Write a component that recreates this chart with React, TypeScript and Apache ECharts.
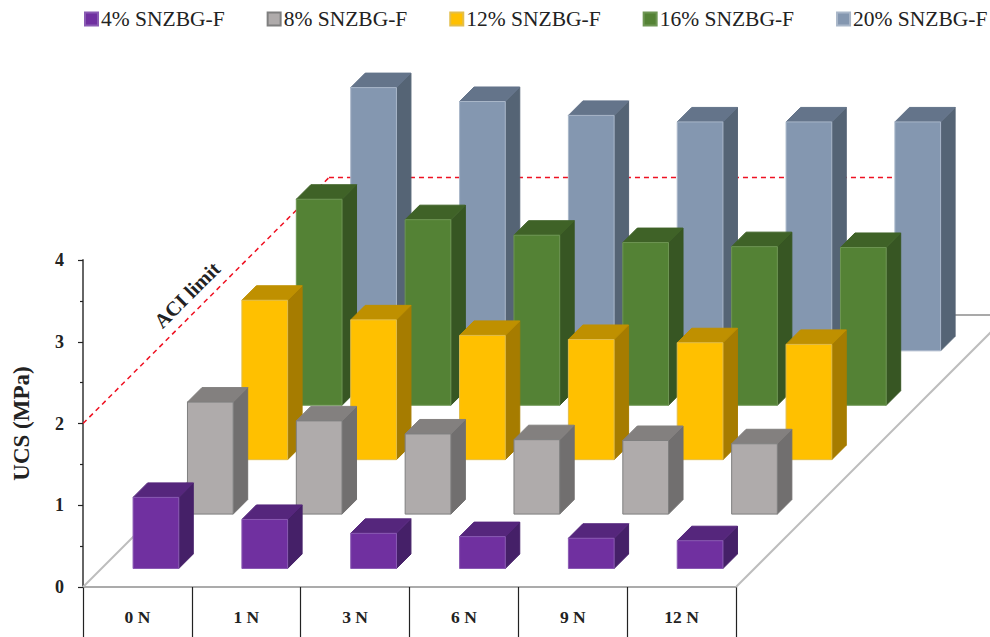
import React, { useEffect, useRef } from "react";
import * as echarts from "echarts";

const categories = ["0 N", "1 N", "3 N", "6 N", "9 N", "12 N"];
const seriesNames = ["4% SNZBG-F", "8% SNZBG-F", "12% SNZBG-F", "16% SNZBG-F", "20% SNZBG-F"];
const pct4 = [0.87, 0.6, 0.43, 0.39, 0.37, 0.34];
const pct8 = [1.37, 1.14, 0.98, 0.91, 0.9, 0.86];
const pct12 = [1.95, 1.71, 1.52, 1.47, 1.43, 1.41];
const pct16 = [2.52, 2.27, 2.08, 1.99, 1.94, 1.93];
const pct20 = [3.22, 3.05, 2.88, 2.8, 2.8, 2.8];
const allValues = [pct4, pct8, pct12, pct16, pct20];
const aciLimit = 2;

const palette = [
  { front: "#7030A0", top: "#55267C", side: "#452068", line: "#8A5BB3" },
  { front: "#AFABAB", top: "#83807F", side: "#716F6F", line: "#7F7F7F" },
  { front: "#FFC000", top: "#BF9000", side: "#A67C00", line: "#E3BE4A" },
  { front: "#548235", top: "#3F6227", side: "#375623", line: "#6E9654" },
  { front: "#8497B0", top: "#64748A", side: "#556475", line: "#A9B7C9" },
];

const FONT = "'Liberation Serif', 'Times New Roman', serif";
const TEXT = "#222222";
const BAR_RATIO = 0.42;
const LEFT_GAP_RATIO = 0.46;
const FRONT_GAP = 18.5;
const EAR = 14.5;

function renderBar(seriesIdx: number) {
  return (params: any, api: any) => {
    const cat = api.value(0);
    const val = api.value(1);
    const band = api.size([1, 0])[0];
    const step = band / 2;
    const base = api.coord([cat, 0]);
    const top = api.coord([cat, val]);
    const h = base[1] - top[1];
    const x0 = base[0] - band / 2 + band * LEFT_GAP_RATIO + seriesIdx * step;
    const w = band * BAR_RATIO;
    const y1 = base[1] - FRONT_GAP - seriesIdx * step;
    const y0 = y1 - h;
    const c = palette[seriesIdx];
    const poly = (points: number[][], fill: string, stroke: string) => ({
      type: "polygon",
      shape: { points },
      style: { fill, stroke, lineWidth: 1 },
    });
    return {
      type: "group",
      children: [
        poly(
          [[x0 + w, y0], [x0 + w + EAR, y0 - EAR], [x0 + w + EAR, y1 - EAR], [x0 + w, y1]],
          c.side,
          c.side
        ),
        poly(
          [[x0, y0], [x0 + EAR, y0 - EAR], [x0 + w + EAR, y0 - EAR], [x0 + w, y0]],
          c.top,
          c.top
        ),
        poly([[x0, y0], [x0 + w, y0], [x0 + w, y1], [x0, y1]], c.front, c.line),
      ],
    };
  };
}

function renderFloor(params: any, api: any) {
  const band = api.size([1, 0])[0];
  const depth = band * 2.5;
  const left = api.coord([0, 0]);
  const x0 = left[0] - band / 2;
  const y0 = left[1];
  const x1 = x0 + band * categories.length;
  const lineStyle = { stroke: "#BDBDBD", lineWidth: 2, fill: "none" };
  return {
    type: "group",
    children: [
      { type: "line", shape: { x1: x0, y1: y0, x2: x0 + depth, y2: y0 - depth }, style: lineStyle },
      { type: "line", shape: { x1: x1, y1: y0, x2: x1 + depth, y2: y0 - depth }, style: lineStyle },
      {
        type: "line",
        shape: { x1: x0 + depth, y1: y0 - depth, x2: x1 + depth, y2: y0 - depth },
        style: { stroke: "#8C8C8C", lineWidth: 1.5, fill: "none" },
      },
    ],
  };
}

function renderLimit(params: any, api: any) {
  const band = api.size([1, 0])[0];
  const depth = band * 2.26;
  const p = api.coord([0, api.value(1)]);
  const x0 = p[0] - band / 2;
  const y0 = p[1];
  const xEnd = api.coord([categories.length - 1, 0])[0] - band / 2 + band * LEFT_GAP_RATIO + band * 2;
  const style = { stroke: "#EE1122", lineWidth: 1.5, lineDash: [5, 4], fill: "none" };
  return {
    type: "group",
    children: [
      { type: "line", shape: { x1: x0, y1: y0, x2: x0 + depth, y2: y0 - depth }, style },
      { type: "line", shape: { x1: x0 + depth, y1: y0 - depth, x2: xEnd, y2: y0 - depth }, style },
    ],
  };
}

export default function App() {
  const ref = useRef<HTMLDivElement>(null);
  useEffect(() => {
    document.body.style.margin = "0";
    const chart = echarts.init(ref.current!, undefined, { renderer: "svg" });
    const barSeries = seriesNames.map((name, s) => ({
      name,
      type: "custom",
      z: 10 - s,
      renderItem: renderBar(s),
      encode: { x: 0, y: 1 },
      itemStyle: { color: palette[s].front, borderColor: palette[s].line, borderWidth: 1 },
      data: allValues[s].map((v, i) => [i, v]),
    }));
    chart.setOption({
      animation: false,
      backgroundColor: "#FFFFFF",
      legend: {
        data: seriesNames,
        left: 84,
        top: 8,
        padding: 0,
        itemWidth: 13,
        itemHeight: 13,
        itemGap: 42,
        icon: "rect",
        textStyle: { fontFamily: FONT, fontSize: 21.5, color: TEXT, padding: [0, 0, 0, -2] },
      },
      grid: { left: 83, top: 260, width: 653, height: 327, outerBoundsMode: "none" },
      xAxis: {
        type: "category",
        data: categories,
        boundaryGap: true,
        axisLine: { lineStyle: { color: "#ABABAB", width: 2 } },
        axisTick: { show: true, alignWithLabel: false, length: 52, lineStyle: { color: "#222222", width: 1.2 } },
        axisLabel: { fontFamily: FONT, fontSize: 17.5, fontWeight: "bold", color: TEXT, margin: 21 },
      },
      yAxis: {
        type: "value",
        min: 0,
        max: 4,
        interval: 1,
        name: "UCS (MPa)",
        nameLocation: "middle",
        nameRotate: 90,
        nameGap: 50,
        nameTextStyle: { fontFamily: FONT, fontSize: 23, fontWeight: "bold", color: TEXT },
        splitLine: { show: false },
        axisLine: { show: true, lineStyle: { color: "#666666", width: 2 } },
        axisTick: { show: true, length: 5, lineStyle: { color: "#222222", width: 1.2 } },
        minorTick: { show: true, splitNumber: 2, length: 3, lineStyle: { color: "#222222", width: 1.2 } },
        axisLabel: { fontFamily: FONT, fontSize: 18, fontWeight: "bold", color: TEXT, margin: 19 },
      },
      graphic: [
        {
          type: "text",
          x: 187,
          y: 295,
          rotation: Math.PI / 4,
          z: 50,
          style: {
            text: "ACI limit",
            fontFamily: FONT,
            fontSize: 20.5,
            fontWeight: "bold",
            fill: TEXT,
            align: "center",
            verticalAlign: "middle",
          },
        },
      ],
      series: [
        {
          name: "floor",
          type: "custom",
          z: 1,
          renderItem: renderFloor,
          encode: { x: 0, y: 1 },
          data: [[0, 0]],
          silent: true,
        },
        {
          name: "ACI limit",
          type: "custom",
          z: 2,
          renderItem: renderLimit,
          encode: { x: 0, y: 1 },
          data: [[0, aciLimit]],
          silent: true,
        },
        ...barSeries,
      ],
    });
    return () => chart.dispose();
  }, []);
  return <div ref={ref} style={{ position: "absolute", left: 0, top: 0, width: 990, height: 637, overflow: "hidden" }} />;
}
